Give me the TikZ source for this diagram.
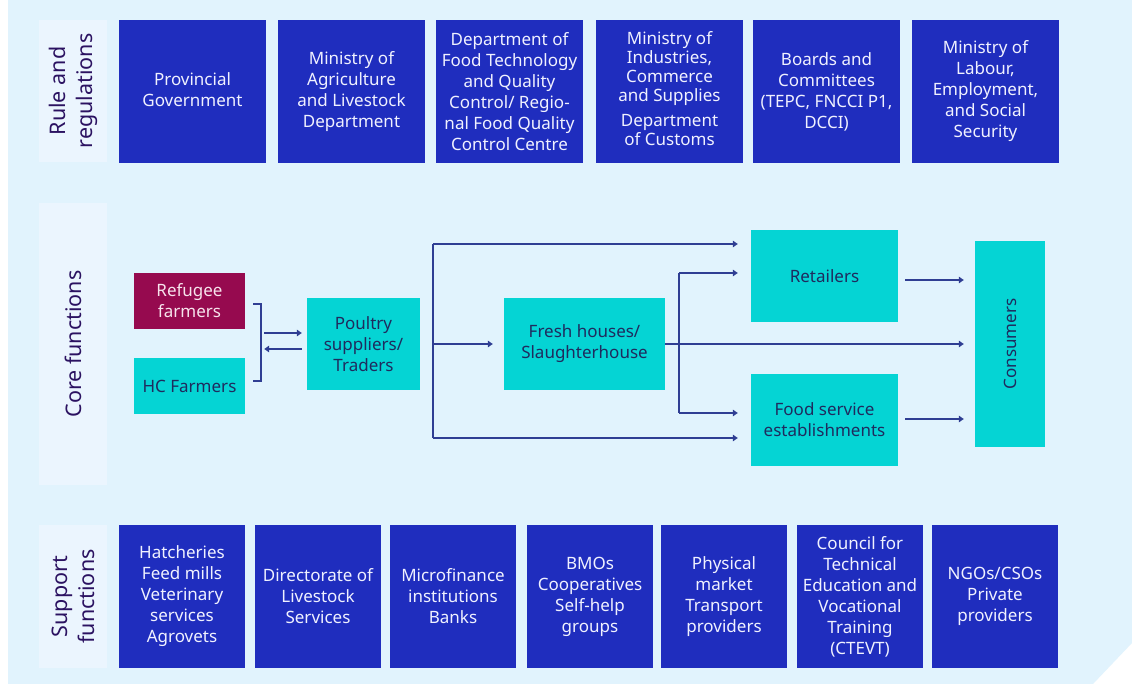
\documentclass[tikz,border=0pt]{standalone}
\usepackage{fontspec}
\setmainfont{Noto Sans}
\usepackage{graphicx}
\usetikzlibrary{arrows.meta,calc}
\definecolor{bg}{HTML}{E1F3FD}
\definecolor{panel}{HTML}{EBF5FE}
\definecolor{dblue}{HTML}{1F2DBE}
\definecolor{cyanbox}{HTML}{05D4D4}
\definecolor{maroon}{HTML}{960A4F}
\definecolor{cyantext}{HTML}{1F2B5E}
\definecolor{arrowc}{HTML}{2F3E93}
\definecolor{labtext}{HTML}{2B1261}
\definecolor{wtext}{HTML}{F0F1FF}
\definecolor{ptext}{HTML}{F7E3EC}
\begin{document}
\begin{tikzpicture}[x=1pt,y=-1pt,
  boxfont/.style={font=\fontsize{17}{21}\selectfont},
  topbox/.style={boxfont, fill=dblue, text=wtext, minimum width=147pt, minimum height=143pt, align=center, inner sep=0pt},
  botbox/.style={boxfont, fill=dblue, text=wtext, minimum width=126pt, minimum height=143pt, align=center, inner sep=0pt},
  corebox/.style={boxfont, fill=cyanbox, text=cyantext, align=center, inner sep=0pt},
  panelbox/.style={fill=panel, minimum width=68pt, inner sep=0pt},
  labeltext/.style={font=\fontsize{21.5}{27}\selectfont, text=labtext, rotate=90, align=center, inner sep=0pt},
  arr/.style={draw=arrowc, line width=1.9pt, -{Triangle[length=5pt,width=6.5pt]}},
  ln/.style={draw=arrowc, line width=1.9pt}
]
\useasboundingbox (0,0) rectangle (1132,684);
\fill[white] (0,0) rectangle (1132,684);
\fill[bg] (8,0) -- (1132,0) -- (1132,643) -- (1093,684) -- (8,684) -- cycle;

% label panels
\node[panelbox, minimum height=142pt] (p1) at (73,91) {};
\node[labeltext] (l1) at (p1.center) {Rule and\\regulations};
\node[panelbox, minimum height=282pt] (p2) at (73,344) {};
\node[labeltext] (l2) at (p2.center) {Core functions};
\node[panelbox, minimum height=143pt] (p3) at (73,596.5) {};
\node[labeltext] (l3) at (p3.center) {Support\\functions};

% top row
\node[topbox] (t1) at (192.5,91.5) {\raisebox{5pt}{\begin{tabular}{@{}c@{}}Provincial\\Government\end{tabular}}};
\node[topbox] (t2) at (351.5,91.5) {Ministry of\\Agriculture\\and Livestock\\Department};
\node[topbox] (t3) at (509.5,91.5) {Department of\\Food Technology\\and Quality\\Control/ Regio-\\nal Food Quality\\Control Centre};
\node[topbox] (t4) at (669.5,91.5) {\raisebox{6pt}{\fontsize{17}{19}\selectfont\begin{tabular}{@{}c@{}}Ministry of\\Industries,\\Commerce\\and Supplies\\[6pt]Department\\of Customs\end{tabular}}};
\node[topbox] (t5) at (826.5,91.5) {Boards and\\Committees\\(TEPC, FNCCI P1,\\DCCI)};
\node[topbox] (t6) at (985.5,91.5) {\raisebox{-3pt}{\begin{tabular}{@{}c@{}}Ministry of\\Labour,\\Employment,\\and Social\\Security\end{tabular}}};

% bottom row
\node[botbox] (b1) at (182,596.5) {Hatcheries\\Feed mills\\Veterinary\\services\\Agrovets};
\node[botbox] (b2) at (318,596.5) {Directorate of\\Livestock\\Services};
\node[botbox] (b3) at (453,596.5) {Microfinance\\institutions\\Banks};
\node[botbox] (b4) at (590,596.5) {BMOs\\Cooperatives\\Self-help\\groups};
\node[botbox] (b5) at (724,596.5) {Physical\\market\\Transport\\providers};
\node[botbox] (b6) at (860,596.5) {Council for\\Technical\\Education and\\Vocational\\Training\\(CTEVT)};
\node[botbox] (b7) at (995,596.5) {NGOs/CSOs\\Private\\providers};

% core functions
\node[corebox, fill=maroon, text=ptext, minimum width=111pt, minimum height=56pt] (ref) at (189.5,301) {Refugee\\farmers};
\node[corebox, minimum width=111pt, minimum height=56pt] (hc) at (189.5,386) {HC Farmers};
\node[corebox, minimum width=113pt, minimum height=92pt] (pou) at (363.5,344) {Poultry\\suppliers/\\Traders};
\node[corebox, minimum width=161pt, minimum height=92pt] (fre) at (584.5,344) {Fresh houses/\\Slaughterhouse};
\node[corebox, minimum width=147pt, minimum height=92pt] (ret) at (824.5,276) {Retailers};
\node[corebox, minimum width=147pt, minimum height=92pt] (foo) at (824.5,420) {Food service\\establishments};
\node[corebox, minimum width=70pt, minimum height=206pt] (con) at (1010,344) {\rotatebox{90}{Consumers}};

% bracket
\coordinate (brt) at ($(ref.east)+(8,3)$);
\coordinate (brb) at ($(hc.east)+(8,-5)$);
\draw[ln] (brt) -- ++(8,0) |- (brb);
\coordinate (a1) at ($(brt)+(11,29)$);
\coordinate (a2) at ($(brt)+(11,45)$);
\draw[arr, shorten >=5pt] (a1) -- (a1 -| pou.west);
\draw[arr, shorten <=5pt] (a2 -| pou.west) -- (a2);

% trunk
\coordinate (tr1) at (433,244);
\coordinate (tr2) at (433,344);
\coordinate (tr3) at (433,438);
\draw[ln] (tr1) -- (tr3);
\draw[arr, shorten >=13pt] (tr1) -- (tr1 -| ret.west);
\draw[arr, shorten >=11pt] (tr2) -- (fre.west);
\draw[arr, shorten >=13pt] (tr3) -- (tr3 -| foo.west);

% second branch
\coordinate (s1) at (679,273);
\coordinate (s2) at (679,413);
\draw[ln] (s1) -- (s2);
\draw[arr, shorten >=13pt] (s1) -- (s1 -| ret.west);
\draw[arr, shorten >=13pt] (s2) -- (s2 -| foo.west);
\draw[arr, shorten >=11pt] (fre.east) -- (con.west);

% to consumers
\coordinate (r1) at ($(ret.east)+(7,4)$);
\coordinate (f1) at ($(foo.east)+(7,-1)$);
\draw[arr, shorten >=11pt] (r1) -- (r1 -| con.west);
\draw[arr, shorten >=11pt] (f1) -- (f1 -| con.west);
\end{tikzpicture}
\end{document}
